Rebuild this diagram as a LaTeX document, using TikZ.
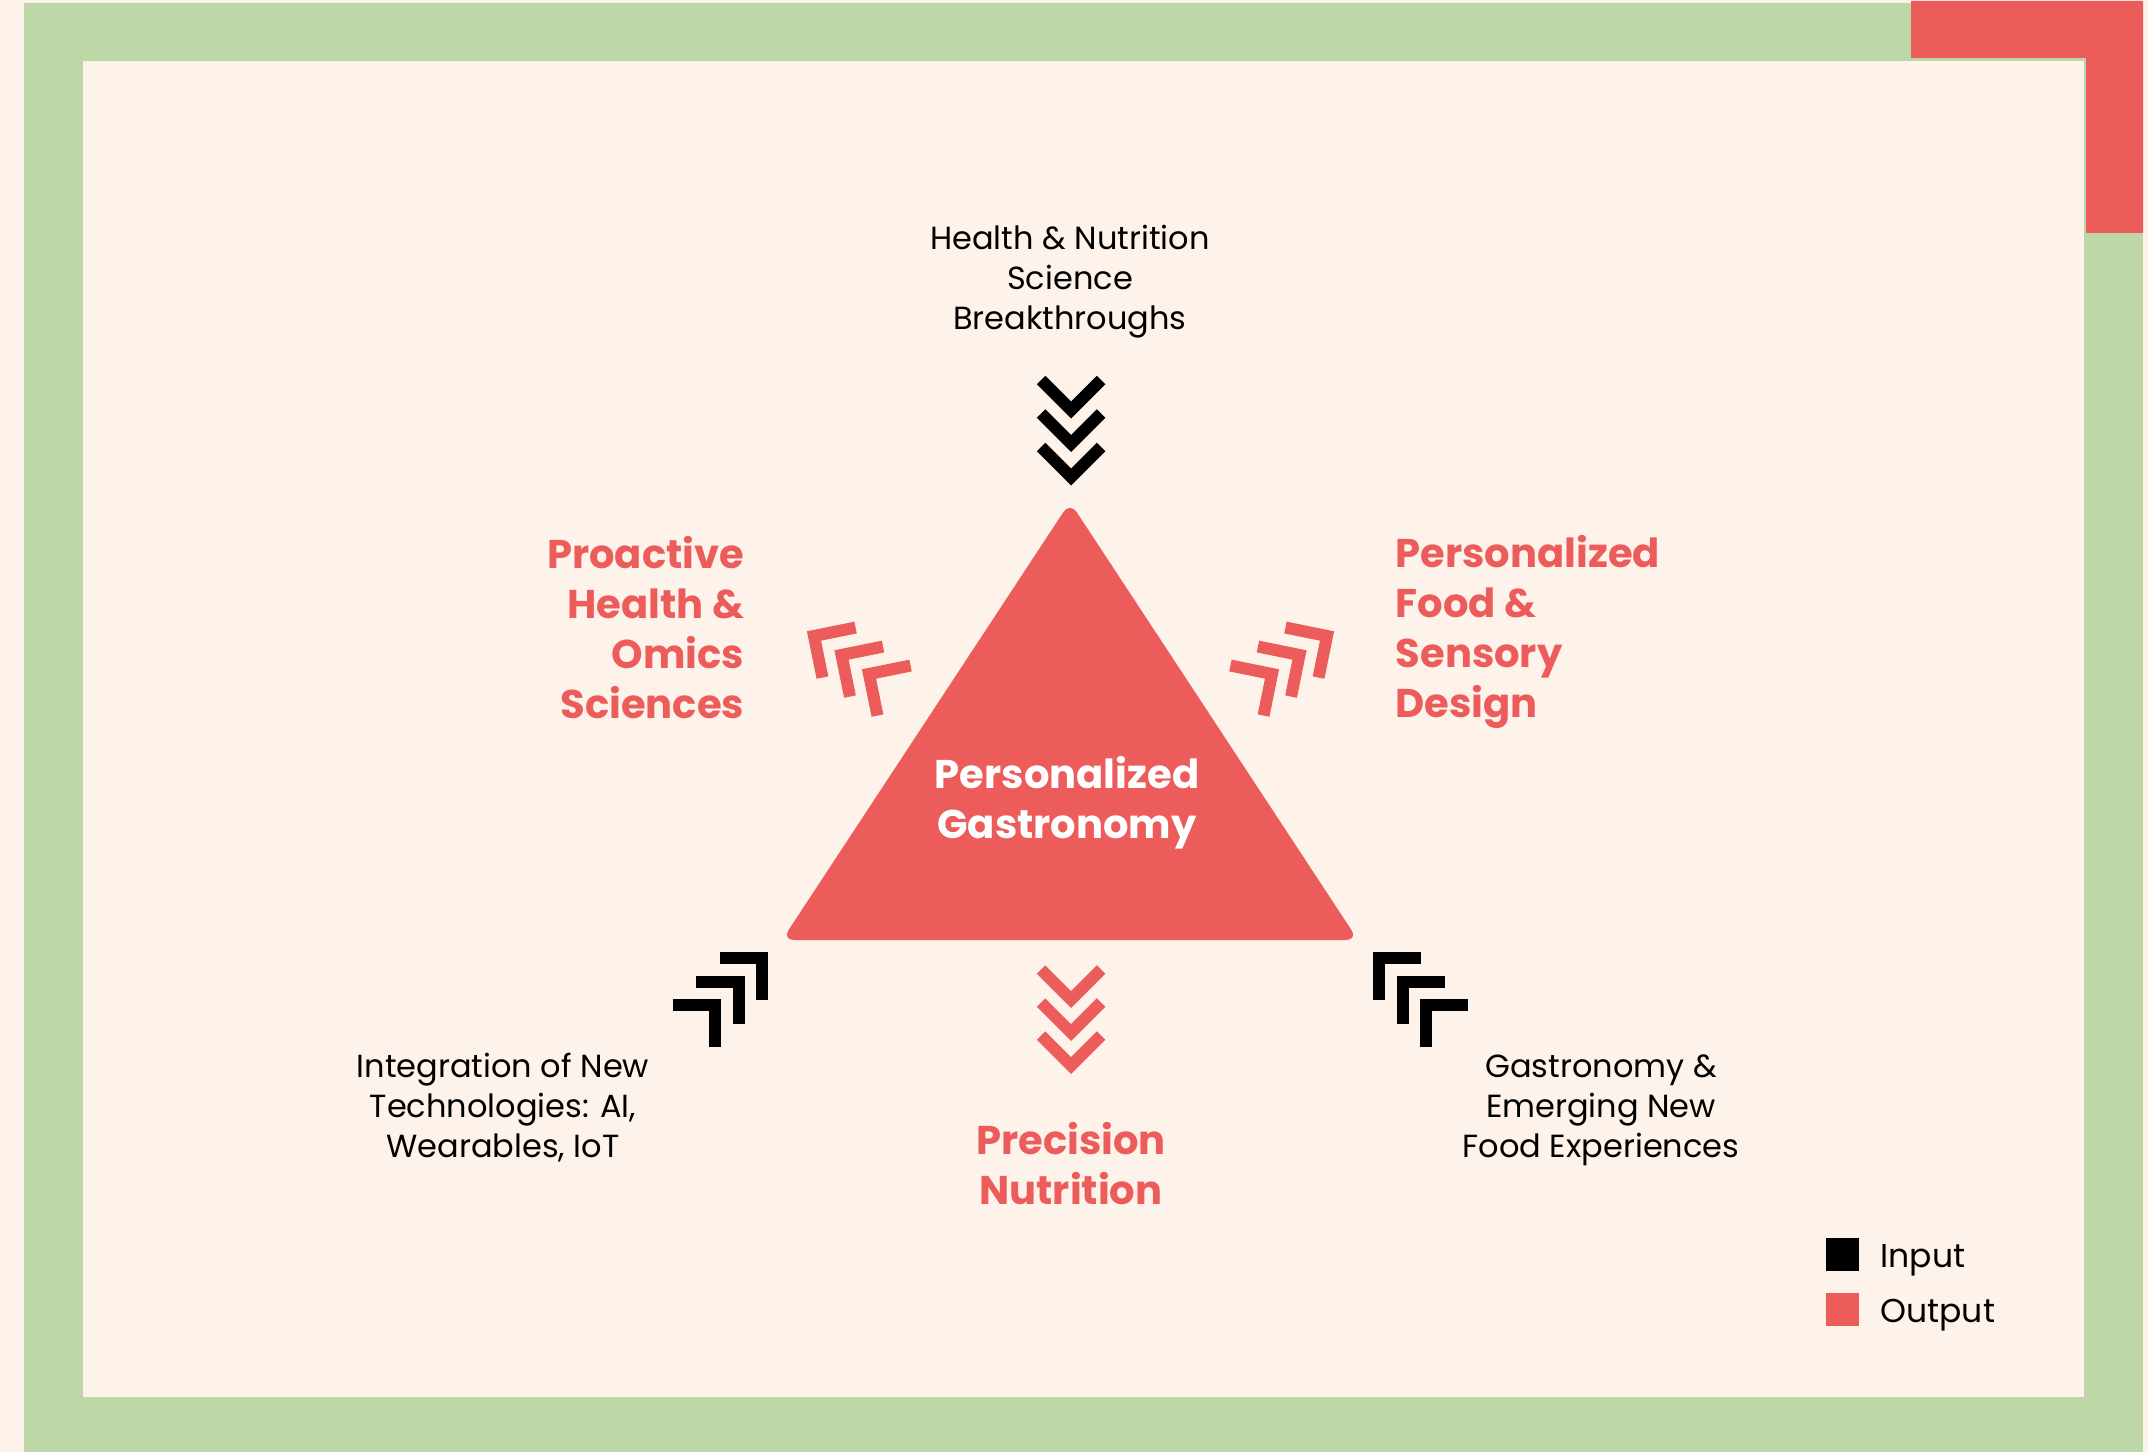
\documentclass[tikz,border=0pt]{standalone}
\usepackage{fontspec}
\setmainfont{Poppins}
\usetikzlibrary{positioning}

\definecolor{cream}{HTML}{FEF3EA}
\definecolor{sage}{HTML}{BED7A7}
\definecolor{coral}{HTML}{EB5C5B}

\tikzset{
  chev/.pic={\draw[line width=0.12cm, line join=miter] (-30,-30) -- (0,0) -- (-30,30);},
  inchev/.style={black},
  outchev/.style={coral},
  small/.style={font=\fontsize{9.1}{11.4}\selectfont, align=center, inner sep=0pt},
  big/.style={font=\fontsize{11.4}{14.2}\selectfont\bfseries, text=coral, inner sep=0pt},
  key/.style={minimum size=0.33cm, inner sep=0pt},
  keytext/.style={font=\fontsize{9.4}{11}\selectfont, inner sep=0pt, anchor=west, yshift=-0.055cm},
}

\begin{document}
\begin{tikzpicture}[x=0.01cm, y=-0.01cm]
    \useasboundingbox (0,0) rectangle (2148,1452);

    % Frame
    \fill[cream] (0,0) rectangle (2148,1452);
    \fill[sage] (24,3) rectangle (2143,1452);
    \fill[cream] (83,61) rectangle (2084,1397);
    \fill[coral] (1911,1) -- (2143,1) -- (2143,233) -- (2086,233) -- (2086,58) -- (1911,58) -- cycle;

    % Triangle
    \fill[coral, rounded corners=0.12cm] (1070,502) -- (1358,940) -- (782,940) -- cycle;
    \node[big, text=white, align=center] (core) at (1067,803) {Personalized\\Gastronomy};

    % Inputs
    \foreach \i in {0,1,2}
        \pic[inchev, rotate=-90] at (1071,{410+33.5*\i}) {chev};
    \foreach \i in {0,1,2}
        \pic[inchev, rotate=45] at ({715+23.5*\i},{1005-23.5*\i}) {chev};
    \foreach \i in {0,1,2}
        \pic[inchev, rotate=135] at ({1426-23.5*\i},{1005-23.5*\i}) {chev};

    % Outputs
    \foreach \i in {0,1,2}
        \pic[outchev, rotate=-90] at (1071,{999.5+33*\i}) {chev};
    \foreach \i in {0,1,2}
        \pic[outchev, rotate=146.5] at ({814+27.5*\i},{636+19*\i}) {chev};
    \foreach \i in {0,1,2}
        \pic[outchev, rotate=33.5] at ({1327-27.5*\i},{636+19*\i}) {chev};

    % Labels
    \node[small] (science) at (1070,282) {Health \& Nutrition\\Science\\Breakthroughs};
    \node[small] (tech) at (503,1107.5) {Integration of New\\Technologies: AI,\\Wearables, IoT};
    \node[small] (gastro) at (1601,1110.5) {Gastronomy \&\\Emerging New\\Food Experiences};
    \node[big, align=right, anchor=east] (omics) at (745,628) {Proactive\\Health \&\\Omics\\Sciences};
    \node[big, align=left, anchor=west] (sensory) at (1395,632) {Personalized\\Food \&\\Sensory\\Design};
    \node[big, align=center] (nutrition) at (1071,1164) {Precision\\Nutrition};

    % Legend
    \node[key, fill=black] (inkey) at (1842.5,1254.5) {};
    \node[key, fill=coral] (outkey) at (1842.5,1309.5) {};
    \node[keytext, right=0.2cm of inkey] (intext) {Input};
    \node[keytext, right=0.2cm of outkey] (outtext) {Output};
\end{tikzpicture}
\end{document}
